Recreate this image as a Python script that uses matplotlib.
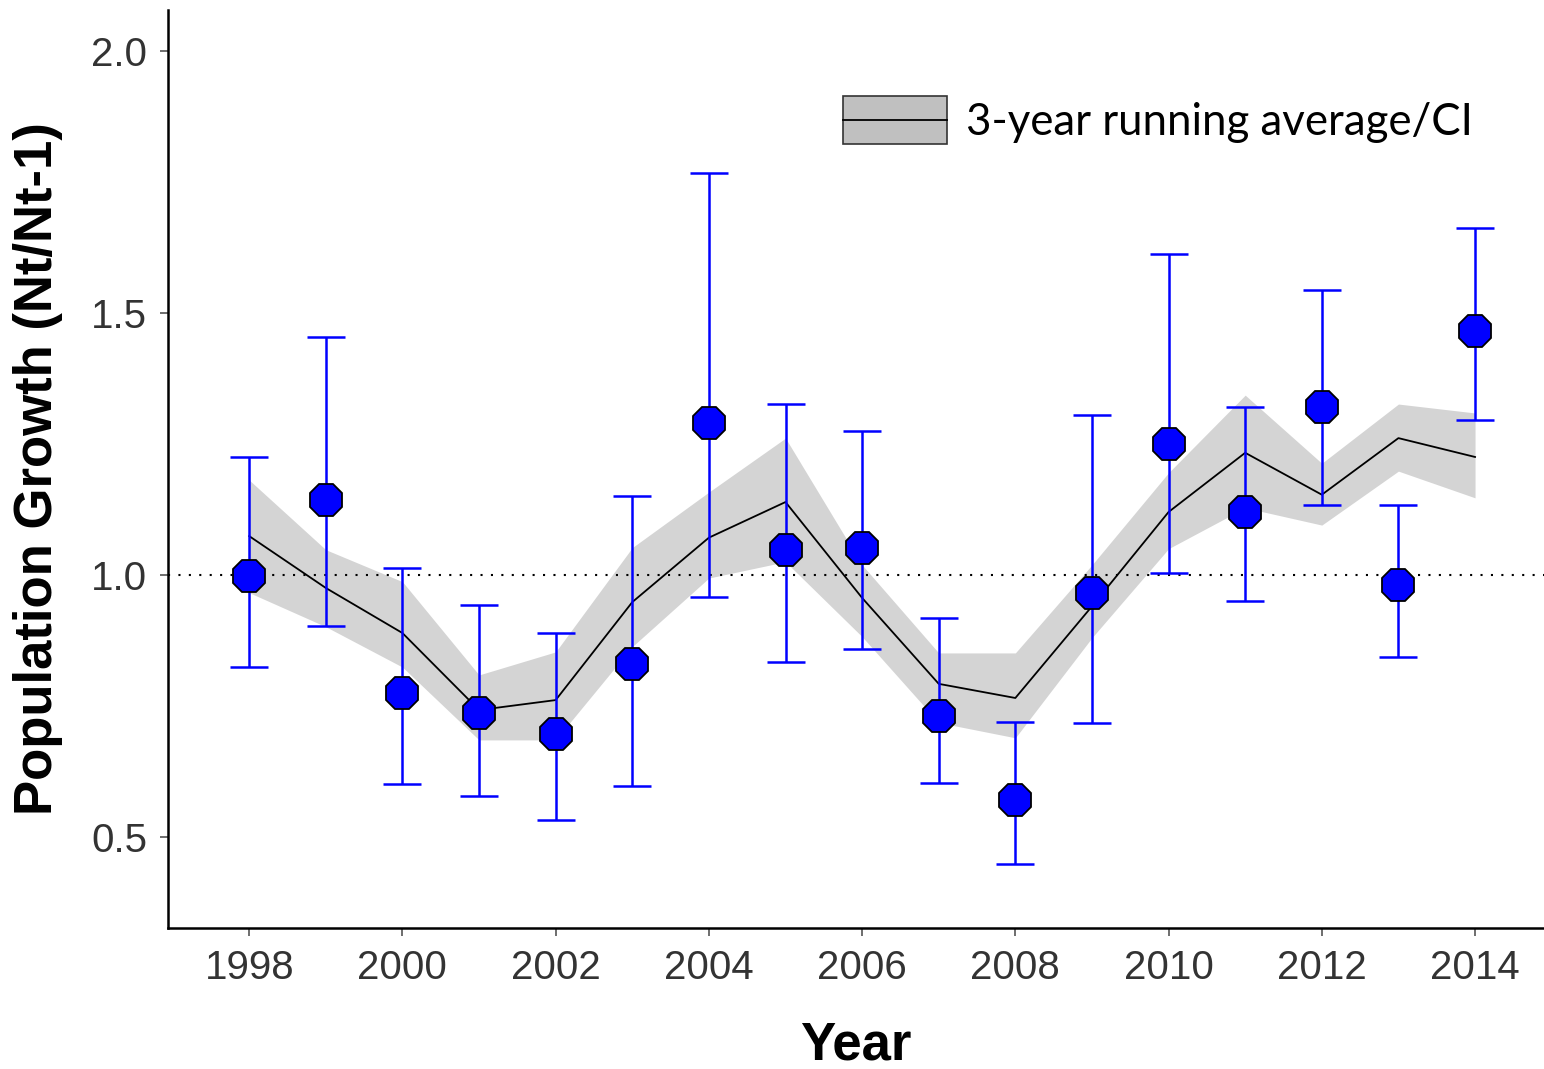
import matplotlib
matplotlib.use("Agg")
import matplotlib.pyplot as plt
from matplotlib.patches import Rectangle
from matplotlib.lines import Line2D

plt.rcParams["font.family"] = ["Liberation Sans", "DejaVu Sans"]

# annual population growth with 95% CI
years = list(range(1998, 2015))
growth = [0.998, 1.143, 0.775, 0.736, 0.697, 0.830, 1.290, 1.048, 1.052,
          0.731, 0.571, 0.966, 1.250, 1.120, 1.321, 0.981, 1.466]
ci_low = [0.824, 0.903, 0.601, 0.578, 0.532, 0.597, 0.958, 0.834, 0.859,
          0.603, 0.448, 0.718, 1.004, 0.950, 1.134, 0.843, 1.296]
ci_high = [1.225, 1.454, 1.013, 0.943, 0.889, 1.151, 1.767, 1.326, 1.275,
           0.918, 0.719, 1.305, 1.613, 1.321, 1.544, 1.134, 1.662]

# 3-year running average and its CI band
run_mean = [1.074, 0.975, 0.889, 0.742, 0.761, 0.948, 1.071, 1.139, 0.956,
            0.792, 0.765, 0.940, 1.120, 1.233, 1.153, 1.261, 1.225]
run_low = [0.966, 0.901, 0.824, 0.685, 0.685, 0.863, 0.994, 1.025, 0.882,
           0.718, 0.689, 0.880, 1.050, 1.128, 1.095, 1.198, 1.147]
run_high = [1.181, 1.048, 0.987, 0.809, 0.853, 1.052, 1.158, 1.261, 1.019,
            0.851, 0.851, 1.019, 1.195, 1.343, 1.213, 1.326, 1.309]

xticks = list(range(1998, 2015, 2))
yticks = [0.5, 1.0, 1.5, 2.0]

fig = plt.figure(figsize=(15.44, 10.69), dpi=100)
ax = fig.add_axes([0.1088, 0.1319, 0.8912, 0.8587])

ax.fill_between(years, run_low, run_high, color="#d4d4d4", lw=0, zorder=1)
ax.plot(years, run_mean, color="black", lw=1.3, zorder=2)
ax.axhline(1.0, color="black", lw=1.5, ls=(0, (1, 4)), zorder=2)

yerr = [[g - lo for g, lo in zip(growth, ci_low)],
        [hi - g for g, hi in zip(growth, ci_high)]]
ax.errorbar(years, growth, yerr=yerr, fmt="none", ecolor="#0000ff",
            elinewidth=1.8, capsize=13.5, capthick=1.8, zorder=3)
ax.plot(years, growth, "8", ms=25, mfc="#0000ff", mec="black", mew=1.3,
        zorder=4)

ax.set_xlim(1996.94, 2014.9)
ax.set_ylim(0.326, 2.078)
ax.set_xticks(xticks)
ax.set_yticks(yticks)
ax.set_yticklabels([f"{v:.1f}" for v in yticks])

for side in ("top", "right"):
    ax.spines[side].set_visible(False)
for side in ("left", "bottom"):
    ax.spines[side].set_linewidth(1.8)
    ax.spines[side].set_color("black")

ax.tick_params(axis="both", length=6, width=1.2, color="#555555",
               labelsize=29, labelcolor="#333333", pad=9)

ax.set_xlabel("Year", fontsize=38, fontweight="bold", labelpad=24)
ax.set_ylabel("Population Growth (Nt/Nt-1)", fontsize=38, fontweight="bold",
              labelpad=20)

# key for the running average, drawn as a standalone box
fig.patches.append(Rectangle((0.546, 0.8653), 0.0674, 0.0449,
                             transform=fig.transFigure, facecolor="#c0c0c0",
                             edgecolor="#333333", lw=1.2))
fig.lines.append(Line2D([0.546, 0.6134], [0.8877, 0.8877],
                        transform=fig.transFigure, color="black", lw=1.3))
fig.text(0.6256, 0.8857, "3-year running average/CI", fontsize=31.5,
         family=["Lato", "DejaVu Sans"], va="center", ha="left")

fig.savefig("out.png", dpi=100)
